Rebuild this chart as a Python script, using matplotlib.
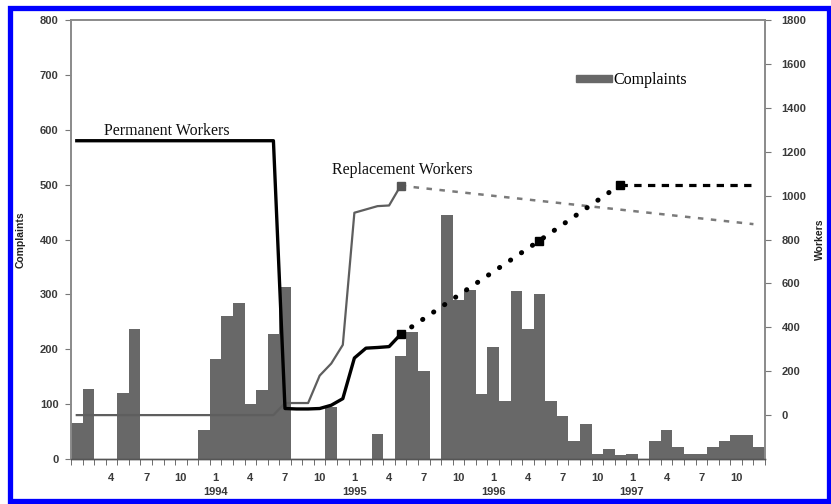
import numpy as np
import matplotlib
matplotlib.use("Agg")
import matplotlib.pyplot as plt
from matplotlib.patches import Rectangle, Patch

# monthly complaints, Jan 1993 .. Dec 1997 (index 0..59)
complaints = [65, 127, 0, 0, 121, 236, 0, 0, 0, 0, 0, 52,
              183, 260, 284, 101, 126, 227, 313, 0, 0, 0, 94, 0,
              0, 0, 45, 0, 188, 232, 160, 0, 444, 289, 308, 119,
              205, 105, 307, 236, 300, 105, 79, 32, 64, 10, 18, 8,
              10, 0, 32, 53, 21, 10, 10, 21, 32, 44, 44, 21]

# workers series, x in month index (centre of month = i + 0.5)
perm_x = [0.5, 17.5, 18.5, 19.5, 20.5, 21.5, 22.5, 23.5, 24.5, 25.5, 26.5, 27.5, 28.5]
perm_w = [1250, 1250, 30, 28, 28, 30, 45, 75, 260, 305, 308, 312, 368]
perm_proj_x = [28.5, 40.5, 47.5]
perm_proj_w = [368, 795, 1050]
perm_flat_x = [47.5, 59.0]
perm_flat_w = [1050, 1050]

repl_x = [0.5, 17.5, 18.5, 19.5, 20.5, 21.5, 22.5, 23.5, 24.5, 25.5, 26.5, 27.5, 28.5]
repl_w = [0, 0, 55, 55, 55, 180, 235, 320, 922, 937, 952, 955, 1045]
repl_proj_x = [28.5, 59.0]
repl_proj_w = [1045, 870]

tick_pos = np.arange(3, 60, 3) + 0.5
tick_lab = ["4", "7", "10", "1", "4", "7", "10", "1", "4", "7", "10",
            "1", "4", "7", "10", "1", "4", "7", "10"]
years = ["1994", "1995", "1996", "1997"]
year_pos = [12.5, 24.5, 36.5, 48.5]

fig = plt.figure(figsize=(8.31, 5.04), dpi=100)
ax = fig.add_axes([71 / 831, 45 / 504, 694 / 831, 439 / 504])
ax2 = ax.twinx()

sans = "Liberation Sans"
serif = "Liberation Serif"
tcol = "#3a3a3a"

months = np.arange(len(complaints))
ax.bar(months, complaints, width=1.0, align="edge", color="#686868",
       linewidth=0, label="Complaints")
ax.set_xlim(0, 60)
ax.set_ylim(0, 800)
ax.set_yticks(np.arange(0, 801, 100))

ax2.set_ylim(-200, 1800)
ax2.set_yticks(np.arange(0, 1801, 200))

# lines
ax2.plot(repl_x, repl_w, color="#5e5e5e", lw=1.6, solid_joinstyle="round")
ax2.plot(repl_proj_x, repl_proj_w, color="#7a7a7a", lw=1.8,
         linestyle=(0, (2.2, 3.0)))
ax2.plot([repl_x[-1]], [repl_w[-1]], marker="s", ms=5.5, color="#555555",
         linestyle="none")

ax2.plot(perm_x, perm_w, color="black", lw=2.4, solid_joinstyle="round")
ax2.plot(perm_proj_x, perm_proj_w, color="black", lw=3.6,
         linestyle=(0, (0.05, 2.6)), dash_capstyle="round")
ax2.plot(perm_flat_x, perm_flat_w, color="black", lw=2.3,
         linestyle=(0, (2.3, 2.0)))
ax2.plot(perm_proj_x, perm_proj_w, marker="s", ms=6, color="black",
         linestyle="none")

# text labels
ax2.text(2.85, 1294, "Permanent Workers", family=serif, fontsize=11.5,
         va="center", ha="left", color="#111111")
ax2.text(22.6, 1117, "Replacement Workers", family=serif, fontsize=11.5,
         va="center", ha="left", color="#111111")

# x axis ticks
ax.set_xticks(tick_pos)
ax.set_xticklabels(tick_lab)
ax.set_xticks(np.arange(0, 61, 1), minor=True)
ax.tick_params(axis="x", which="major", length=0, pad=10)
ax.tick_params(axis="x", which="minor", length=4, direction="out",
               color="#555555")
for yr, xp in zip(years, year_pos):
    ax.text(xp, -0.063, yr, transform=ax.get_xaxis_transform(),
            ha="center", va="top", family=sans, fontsize=8,
            fontweight="bold", color=tcol)

ax.tick_params(axis="y", length=4, direction="out", color="#777777", pad=5)
ax2.tick_params(axis="y", length=4, direction="out", color="#777777", pad=8)
for lab in ax.get_xticklabels() + ax.get_yticklabels() + ax2.get_yticklabels():
    lab.set_family(sans)
    lab.set_fontsize(8)
    lab.set_fontweight("bold")
    lab.set_color(tcol)

ax.set_ylabel("Complaints", family=sans, fontsize=7.5, fontweight="bold",
              color="#222222", labelpad=10)
ax2.set_ylabel("Workers", family=sans, fontsize=7.5, fontweight="bold",
               color="#222222", labelpad=6)

for a in (ax, ax2):
    for s in ("left", "right", "top"):
        a.spines[s].set_color("#8a8a8a")
        a.spines[s].set_linewidth(1.2)
    a.spines["bottom"].set_color("#555555")
    a.spines["bottom"].set_linewidth(1.0)

leg = ax.legend(handles=[Patch(color="#686868", label="Complaints")],
                loc="center left", bbox_to_anchor=(0.727, 0.863),
                frameon=False, handlelength=2.3, handleheight=0.35,
                handletextpad=0.1, borderpad=0, borderaxespad=0,
                prop={"family": serif, "size": 11.5})

# blue frame round the figure
fig.patches.append(Rectangle((9.5 / 831, 3.5 / 504), 819.5 / 831, 493 / 504,
                             transform=fig.transFigure, fill=False,
                             edgecolor="#0000ff", linewidth=3.8))

plt.savefig("out.png", dpi=100)
